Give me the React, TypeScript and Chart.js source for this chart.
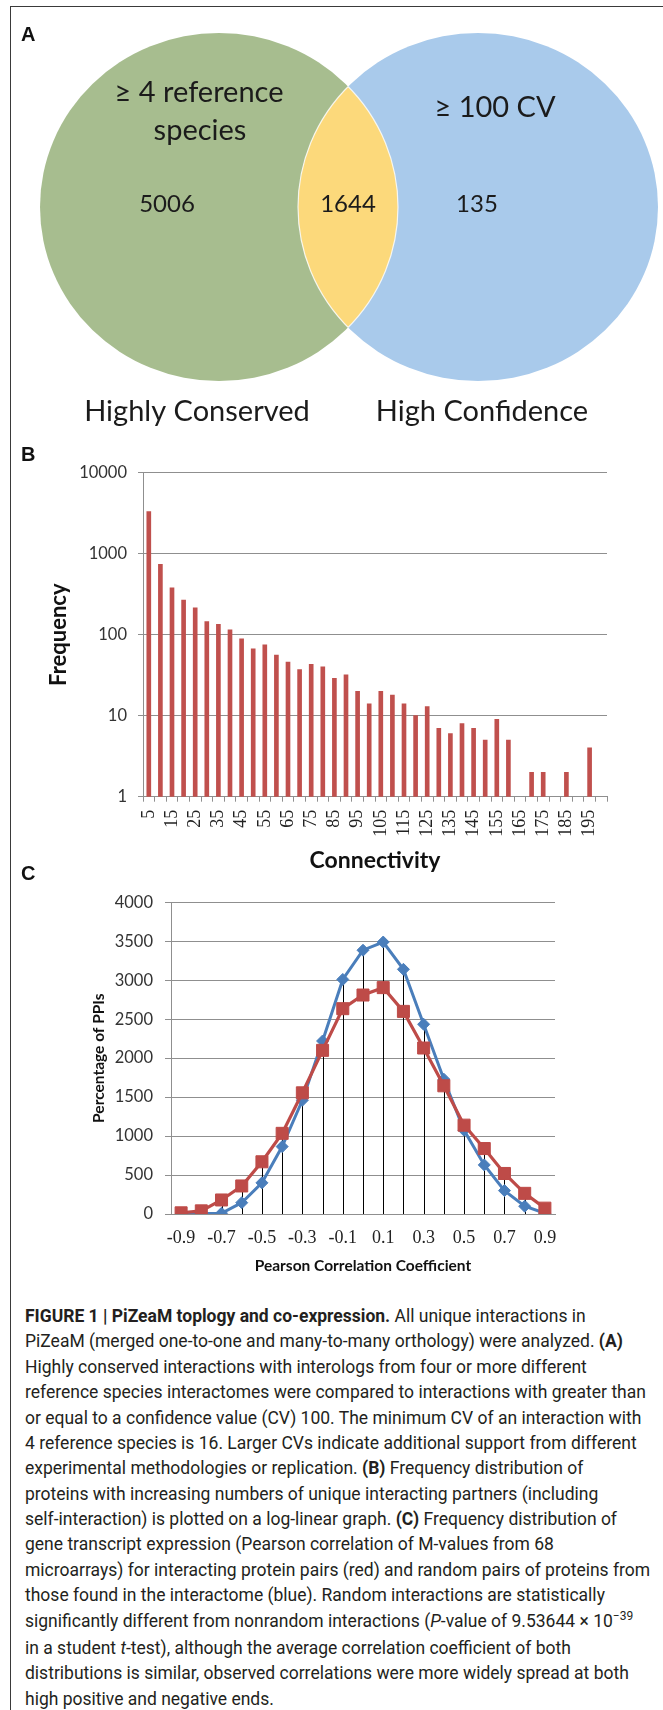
import React, { useEffect, useRef } from "react";
import { Chart, registerables } from "chart.js";

Chart.register(...registerables);

// ---------- Panel A: Venn ----------
const vennSetLabels = [["≥ 4 reference", "species"], ["≥ 100 CV"]];
const vennGroupNames = ["Highly Conserved", "High Confidence"];
const vennCounts = [5006, 1644, 135]; // left only, overlap, right only

// ---------- Panel B: connectivity histogram ----------
const connectivityCategories = [
  "5", "10", "15", "20", "25", "30", "35", "40", "45", "50",
  "55", "60", "65", "70", "75", "80", "85", "90", "95", "100",
  "105", "110", "115", "120", "125", "130", "135", "140", "145", "150",
  "155", "160", "165", "170", "175", "180", "185", "190", "195", "200",
];
const connectivityFrequency = [
  3300, 740, 380, 268, 215, 145, 134, 115, 89, 67,
  75, 56, 46, 37, 43, 40, 29, 32, 20, 14,
  20, 18, 14, 10, 13, 7, 6, 8, 7, 5,
  9, 5, null, 2, 2, null, 2, null, 4, null,
];
const frequencyTicks = [1, 10, 100, 1000, 10000];

// ---------- Panel C: Pearson correlation distribution ----------
const pearsonCategories = [
  "-0.9", "-0.8", "-0.7", "-0.6", "-0.5", "-0.4", "-0.3", "-0.2", "-0.1", "0",
  "0.1", "0.2", "0.3", "0.4", "0.5", "0.6", "0.7", "0.8", "0.9",
];
const interactingPairs = [
  15, 40, 180, 360, 670, 1035, 1555, 2100, 2635, 2810,
  2905, 2600, 2130, 1645, 1140, 840, 520, 265, 75,
];
const randomPairs = [
  0, 5, 10, 145, 400, 865, 1460, 2220, 3010, 3385,
  3490, 3140, 2435, 1730, 1075, 630, 300, 100, 10,
];
const percentageTicks = [0, 500, 1000, 1500, 2000, 2500, 3000, 3500, 4000];

// ---------- styling constants ----------
const RED = "#BE4B48";
const BAR_RED = "#C0504D";
const BLUE = "#4A7EBB";
const GRID = "#8f8f8f";
const SANS = "Lato";
const SERIF = '"Liberation Serif"';

// Venn layout (in the hidden 663 x 435 frame of panel A)
const VENN_SHAPES = [
  { cx: 219, cy: 207, rx: 179, ry: 174, color: "#A7BD8F" },
  { cx: 478, cy: 207, rx: 180, ry: 174, color: "#A9CAEB" },
];
const VENN_LENS_COLOR = "#FCD97B";

const vennPlugin = {
  id: "vennDraw",
  afterDraw(chart: any) {
    const { ctx } = chart;
    const xs = chart.scales.x;
    const ys = chart.scales.y;
    const px = (v: number) => xs.getPixelForValue(v);
    const py = (v: number) => ys.getPixelForValue(v);
    const path = (s: any) => {
      ctx.beginPath();
      ctx.ellipse(
        px(s.cx), py(s.cy),
        Math.abs(px(s.cx + s.rx) - px(s.cx)),
        Math.abs(py(s.cy + s.ry) - py(s.cy)),
        0, 0, Math.PI * 2
      );
    };
    ctx.save();
    VENN_SHAPES.forEach((s) => {
      path(s);
      ctx.fillStyle = s.color;
      ctx.fill();
    });
    // lens
    ctx.save();
    path(VENN_SHAPES[0]);
    ctx.clip();
    path(VENN_SHAPES[1]);
    ctx.fillStyle = VENN_LENS_COLOR;
    ctx.fill();
    ctx.strokeStyle = "rgba(255,255,255,0.8)";
    ctx.lineWidth = 1.2;
    ctx.stroke();
    ctx.restore();
    ctx.save();
    path(VENN_SHAPES[1]);
    ctx.clip();
    path(VENN_SHAPES[0]);
    ctx.strokeStyle = "rgba(255,255,255,0.8)";
    ctx.lineWidth = 1.2;
    ctx.stroke();
    ctx.restore();

    ctx.fillStyle = "#1b1b1b";
    ctx.textAlign = "center";
    ctx.textBaseline = "alphabetic";
    ctx.font = `29px ${SANS}`;
    // set labels
    ctx.fillText(vennSetLabels[0][0], px(199), py(102));
    ctx.fillText(vennSetLabels[0][1], px(200), py(140));
    ctx.fillText(vennSetLabels[1][0], px(495), py(117));
    // counts
    ctx.font = `24px ${SANS}`;
    ctx.fillText(String(vennCounts[0]), px(167), py(212));
    ctx.fillText(String(vennCounts[1]), px(348), py(212));
    ctx.fillText(String(vennCounts[2]), px(477), py(212));
    // group names
    ctx.font = `29px ${SANS}`;
    ctx.fillText(vennGroupNames[0], px(197), py(421));
    ctx.fillText(vennGroupNames[1], px(482), py(421));
    ctx.restore();
  },
};

const dropLinesPlugin = {
  id: "dropLines",
  beforeDatasetsDraw(chart: any) {
    const { ctx } = chart;
    const x = chart.scales.x;
    const y = chart.scales.y;
    ctx.save();
    ctx.strokeStyle = "#000";
    ctx.lineWidth = 1;
    pearsonCategories.forEach((_, i) => {
      const top = Math.max(interactingPairs[i], randomPairs[i]);
      const xp = Math.round(x.getPixelForValue(i)) + 0.5;
      ctx.beginPath();
      ctx.moveTo(xp, y.getPixelForValue(top));
      ctx.lineTo(xp, y.getPixelForValue(0));
      ctx.stroke();
    });
    ctx.restore();
  },
};

function useChart(ref: React.RefObject<HTMLCanvasElement>, make: () => any) {
  useEffect(() => {
    if (!ref.current) return;
    const chart = new Chart(ref.current, make());
    return () => chart.destroy();
  }, []);
}

export default function App() {
  const aRef = useRef<HTMLCanvasElement>(null);
  const bRef = useRef<HTMLCanvasElement>(null);
  const cRef = useRef<HTMLCanvasElement>(null);

  useChart(aRef, () => ({
    type: "scatter",
    data: { datasets: [] },
    options: {
      responsive: false,
      animation: false,
      devicePixelRatio: 1,
      layout: { padding: 0 },
      plugins: { legend: { display: false }, tooltip: { enabled: false } },
      scales: {
        x: { type: "linear", min: 0, max: 663, display: false },
        y: { type: "linear", min: 0, max: 435, reverse: true, display: false },
      },
    },
    plugins: [vennPlugin],
  }));

  useChart(bRef, () => ({
    type: "bar",
    data: {
      labels: connectivityCategories,
      datasets: [
        {
          label: "Frequency",
          data: connectivityFrequency,
          backgroundColor: BAR_RED,
          borderWidth: 0,
          barThickness: 4,
        },
      ],
    },
    options: {
      responsive: false,
      animation: false,
      devicePixelRatio: 1,
      layout: { padding: { top: 37.7, right: 56, left: 0, bottom: 0 } },
      plugins: { legend: { display: false }, tooltip: { enabled: false } },
      scales: {
        x: {
          grid: {
            display: true,
            drawOnChartArea: false,
            drawTicks: true,
            tickLength: 5,
            color: GRID,
            offset: true,
          },
          border: { color: GRID, width: 1 },
          ticks: {
            autoSkip: false,
            minRotation: 90,
            maxRotation: 90,
            padding: 8,
            color: "#222",
            font: { family: SERIF, size: 18 },
            callback: (_v: any, i: number) => (i % 2 === 0 ? connectivityCategories[i] : ""),
          },
          title: {
            display: true,
            text: "Connectivity",
            color: "#111",
            font: { family: SANS, size: 23, weight: "bold" },
            padding: { top: 0, bottom: 6 },
          },
          afterFit: (s: any) => {
            s.height = 83.3;
          },
        },
        y: {
          type: "logarithmic",
          min: 1,
          max: 10000,
          afterBuildTicks: (s: any) => {
            s.ticks = frequencyTicks.map((v) => ({ value: v }));
          },
          grid: { color: GRID, tickLength: 5 },
          border: { color: GRID, width: 1 },
          ticks: {
            padding: 11,
            color: "#333",
            font: { family: SANS, size: 16.5 },
            callback: (v: any) => String(v),
          },
          title: {
            display: true,
            text: "Frequency",
            color: "#111",
            font: { family: SANS, size: 22, weight: "bold" },
            padding: { top: 46, bottom: 0 },
          },
          afterFit: (s: any) => {
            s.width = 143;
          },
        },
      },
    },
  }));

  useChart(cRef, () => ({
    type: "line",
    data: {
      labels: pearsonCategories,
      datasets: [
        {
          label: "Interacting protein pairs",
          data: interactingPairs,
          borderColor: RED,
          backgroundColor: RED,
          borderWidth: 3.2,
          pointStyle: "rect",
          pointRadius: 8.5,
          pointBorderWidth: 1,
          pointBorderColor: RED,
          pointBackgroundColor: RED,
          tension: 0,
        },
        {
          label: "Random protein pairs",
          data: randomPairs,
          borderColor: BLUE,
          backgroundColor: BLUE,
          borderWidth: 3,
          pointStyle: "rectRot",
          pointRadius: 6,
          pointBorderWidth: 1,
          pointBorderColor: BLUE,
          pointBackgroundColor: BLUE,
          tension: 0,
        },
      ],
    },
    options: {
      responsive: false,
      animation: false,
      devicePixelRatio: 1,
      layout: { padding: { top: 22.3, right: 108, left: 0, bottom: 0 } },
      plugins: { legend: { display: false }, tooltip: { enabled: false } },
      scales: {
        x: {
          offset: true,
          grid: { display: true, drawOnChartArea: false, drawTicks: false, color: GRID },
          border: { color: GRID, width: 1 },
          ticks: {
            autoSkip: false,
            minRotation: 0,
            maxRotation: 0,
            padding: 13,
            color: "#222",
            font: { family: SERIF, size: 18 },
            callback: (_v: any, i: number) => (i % 2 === 0 ? pearsonCategories[i] : ""),
          },
          title: {
            display: true,
            text: "Pearson Correlation Coefficient",
            color: "#111",
            font: { family: SANS, size: 15.5, weight: "bold" },
            padding: { top: 0, bottom: 15 },
          },
          afterFit: (s: any) => {
            s.height = 76;
          },
        },
        y: {
          min: 0,
          max: 4000,
          afterBuildTicks: (s: any) => {
            s.ticks = percentageTicks.map((v) => ({ value: v }));
          },
          grid: { color: GRID, tickLength: 6 },
          border: { color: GRID, width: 1 },
          ticks: {
            padding: 12,
            color: "#333",
            font: { family: SANS, size: 16.5 },
            callback: (v: any) => String(v),
          },
          title: {
            display: true,
            text: "Percentage of PPIs",
            color: "#111",
            font: { family: SANS, size: 15.5, weight: "bold" },
            padding: { top: 89.7, bottom: 0 },
          },
          afterFit: (s: any) => {
            s.width = 171;
          },
        },
      },
    },
    plugins: [dropLinesPlugin],
  }));

  const panelLabel = (text: string, top: number) => (
    <div
      style={{
        position: "absolute",
        left: 21,
        top,
        fontFamily: '"Liberation Sans", Arial, sans-serif',
        fontWeight: "bold",
        fontSize: 20,
        lineHeight: "20px",
        color: "#111",
      }}
    >
      {text}
    </div>
  );

  const b = (t: string) => <b style={{ fontWeight: 700 }}>{t}</b>;
  const captionLines: React.ReactNode[] = [
    <>{b("FIGURE 1 | PiZeaM toplogy and co-expression.")} All unique interactions in</>,
    <>PiZeaM (merged one-to-one and many-to-many orthology) were analyzed. {b("(A)")}</>,
    <>Highly conserved interactions with interologs from four or more different</>,
    <>reference species interactomes were compared to interactions with greater than</>,
    <>or equal to a confidence value (CV) 100. The minimum CV of an interaction with</>,
    <>4 reference species is 16. Larger CVs indicate additional support from different</>,
    <>experimental methodologies or replication. {b("(B)")} Frequency distribution of</>,
    <>proteins with increasing numbers of unique interacting partners (including</>,
    <>self-interaction) is plotted on a log-linear graph. {b("(C)")} Frequency distribution of</>,
    <>gene transcript expression (Pearson correlation of M-values from 68</>,
    <>microarrays) for interacting protein pairs (red) and random pairs of proteins from</>,
    <>those found in the interactome (blue). Random interactions are statistically</>,
    <>
      significantly different from nonrandom interactions (<i>P</i>-value of 9.53644 × 10
      <span style={{ fontSize: 12, position: "relative", top: -7 }}>−39</span>
    </>,
    <>in a student <i>t</i>-test), although the average correlation coefficient of both</>,
    <>distributions is similar, observed correlations were more widely spread at both</>,
    <>high positive and negative ends.</>,
  ];

  return (
    <div
      style={{
        position: "absolute",
        left: 0,
        top: 0,
        width: 663,
        height: 1710,
        background: "#fff",
        overflow: "hidden",
      }}
    >
      <div
        style={{
          position: "absolute",
          left: 9.5,
          top: 6,
          width: 660,
          height: 1720,
          borderTop: "1.5px solid #3a3a3a",
          borderLeft: "1.5px solid #3a3a3a",
        }}
      />
      <canvas ref={aRef} width={663} height={435} style={{ position: "absolute", left: 0, top: 0 }} />
      <canvas ref={bRef} width={663} height={445} style={{ position: "absolute", left: 0, top: 435 }} />
      <canvas ref={cRef} width={663} height={410} style={{ position: "absolute", left: 0, top: 880 }} />
      {panelLabel("A", 24.1)}
      {panelLabel("B", 444.1)}
      {panelLabel("C", 863)}
      <div
        style={{
          position: "absolute",
          left: 25,
          top: 1304,
          fontFamily: "Roboto, sans-serif",
          fontSize: 17.5,
          lineHeight: "25.37px",
          color: "#231f20",
          whiteSpace: "nowrap",
        }}
      >
        {captionLines.map((l, i) => (
          <div key={i}>{l}</div>
        ))}
      </div>
    </div>
  );
}
